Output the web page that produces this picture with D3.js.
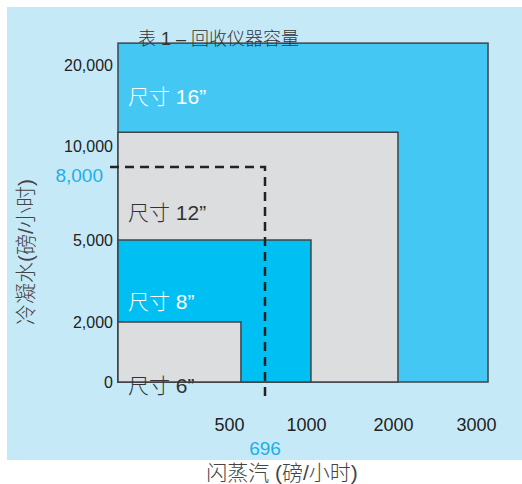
<!DOCTYPE html>
<html><head><meta charset="utf-8">
<script src="https://cdn.jsdelivr.net/npm/d3@7"></script>
<style>
html,body{margin:0;padding:0;background:#fff;}
svg text{font-family:"Liberation Sans","Noto Sans CJK SC",sans-serif;}
.cjk{font-weight:300;}
</style></head>
<body><svg id="c" width="522" height="484"></svg>
<script>
// ---- data ----
const sizeLabels = ["尺寸 6”", "尺寸 8”", "尺寸 12”", "尺寸 16”"];
const steamCapacity = [565, 1057, 2060, 3145];        // flash steam lb/h
const condensateCapacity = [2000, 5000, 11700, 22700]; // condensate lb/h
const xTickValues = [500, 1000, 2000, 3000];
const yTickValues = [0, 2000, 5000, 10000, 20000];
const exampleSteam = 696;
const exampleCondensate = 8000;
const title = "表 1 – 回收仪器容量";
const xTitle = "闪蒸汽 (磅/小时)";
const yTitle = "冷凝水(磅/小时)";

// ---- styles ----
const fills = ["#dcdddf", "#00bff2", "#dcdddf", "#45c7f4"];
const labelColors = ["#333", "#fff", "#333", "#fff"];
const labelDy = [64, 62, 80, 54];

const svg = d3.select("#c");
svg.append("rect").attr("x", 7).attr("y", 7).attr("width", 515).attr("height", 453).attr("fill", "#c6e9f8");

// piecewise (schematic) scales
const x = d3.scaleLinear().domain([0, 500, 696, 1000, 2000, 3000]).range([118, 229, 265, 306, 393, 476]);
const y = d3.scaleLinear().domain([0, 2000, 5000, 8000, 10000, 20000]).range([382, 322, 240, 167, 146, 65]);

const idx = d3.range(sizeLabels.length).reverse();
svg.append("g").selectAll("rect").data(idx).join("rect")
  .attr("x", x(0)).attr("y", i => y(condensateCapacity[i]))
  .attr("width", i => x(steamCapacity[i]) - x(0))
  .attr("height", i => y(0) - y(condensateCapacity[i]))
  .attr("fill", i => fills[i]).attr("stroke", "#3f4448").attr("stroke-width", 1.5);

// dashed example line
svg.append("path")
  .attr("d", `M${x(0) - 8},${y(exampleCondensate)}H${x(exampleSteam)}V${y(0) + 20}`)
  .attr("fill", "none").attr("stroke", "#222").attr("stroke-width", 2.5).attr("stroke-dasharray", "9,6");

// size labels
svg.append("g").selectAll("text").data(idx).join("text").attr("class", "cjk")
  .attr("x", x(0) + 10).attr("y", i => y(condensateCapacity[i]) + labelDy[i])
  .attr("dy", "0.35em").attr("font-size", 21).attr("fill", i => labelColors[i])
  .text(i => sizeLabels[i]);

// axes
const yAxis = svg.append("g").attr("transform", `translate(${x(0)},0)`)
  .call(d3.axisLeft(y).tickValues(yTickValues).tickSize(0).tickPadding(5).tickFormat(d3.format(",")));
yAxis.select(".domain").remove();
yAxis.selectAll("text").attr("font-size", 16).attr("fill", "#222").attr("font-family", null);

const xAxis = svg.append("g").attr("transform", `translate(0,${y(0)})`)
  .call(d3.axisBottom(x).tickValues(xTickValues).tickSize(0).tickPadding(36).tickFormat(d3.format("d")));
xAxis.select(".domain").remove();
xAxis.selectAll("text").attr("font-size", 18).attr("fill", "#222").attr("font-family", null);

// example values in blue
svg.append("text").attr("x", x(0) - 15).attr("y", y(exampleCondensate) + 8).attr("dy", "0.35em")
  .attr("text-anchor", "end").attr("font-size", 19).attr("fill", "#1bb0e8").text(d3.format(",")(exampleCondensate));
svg.append("text").attr("x", x(exampleSteam)).attr("y", 448).attr("dy", "0.35em")
  .attr("text-anchor", "middle").attr("font-size", 19).attr("fill", "#1bb0e8").text(exampleSteam);

// titles
svg.append("text").attr("class", "cjk").attr("x", 138).attr("y", 39).attr("dy", "0.35em").attr("font-size", 18).attr("fill", "#333").text(title);
svg.append("text").attr("class", "cjk").attr("x", 282).attr("y", 473).attr("dy", "0.35em").attr("text-anchor", "middle")
  .attr("font-size", 21).attr("fill", "#444").text(xTitle);
svg.append("text").attr("class", "cjk").attr("transform", "translate(26,252) rotate(-90)").attr("dy", "0.35em").attr("text-anchor", "middle")
  .attr("font-size", 21).attr("fill", "#444").text(yTitle);
</script></body></html>
